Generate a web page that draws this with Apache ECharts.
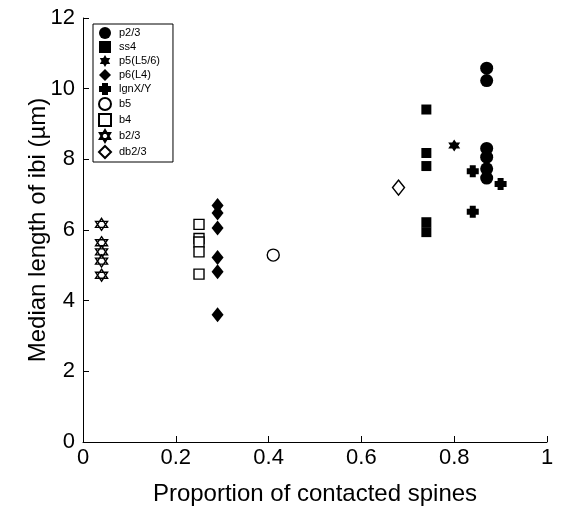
<!DOCTYPE html>
<html><head><meta charset="utf-8">
<script src="https://cdn.jsdelivr.net/npm/echarts@6/dist/echarts.min.js"></script>
<style>html,body{margin:0;padding:0;background:#fff;}#c{width:564px;height:512px;}</style>
</head><body><div id="c"></div>
<script>
// Series names (legend order)
const seriesNames = ['p2/3','ss4','p5(L5/6)','p6(L4)','lgnX/Y','b5','b4','b2/3','db2/3'];
// Data per group: x = proportion of contacted spines, y = median length of ibi (µm)
const p23X = [0.87,0.87,0.87,0.87,0.87,0.87];
const p23Y = [10.58,10.23,8.31,8.06,7.73,7.47];
const ss4X = [0.74,0.74,0.74,0.74,0.74];
const ss4Y = [9.41,8.18,7.81,6.22,5.94];
const p5X = [0.80];
const p5Y = [8.39];
const p6X = [0.29,0.29,0.29,0.29,0.29,0.29];
const p6Y = [6.69,6.48,6.06,5.22,4.82,3.6];
const lgnX = [0.84,0.90,0.84];
const lgnY = [7.66,7.3,6.52];
const b5X = [0.41];
const b5Y = [5.29];
const b4X = [0.25,0.25,0.25,0.25,0.25];
const b4Y = [6.16,5.76,5.66,5.38,4.75];
const b23X = [0.04,0.04,0.04,0.04,0.04];
const b23Y = [6.16,5.64,5.38,5.12,4.72];
const db23X = [0.68];
const db23Y = [7.2];
// Axis ticks
const xTicks = [0,0.2,0.4,0.6,0.8,1];
const yTicks = [0,2,4,6,8,10,12];

const zip = (xs, ys) => xs.map((x, i) => [x, ys[i]]);
const hexPath = 'path://M0,-10 L8.66,5 L-8.66,5 Z M0,10 L-8.66,-5 L8.66,-5 Z';
const plusPath = 'path://M-3,-6 L3,-6 L3,-3 L6,-3 L6,3 L3,3 L3,6 L-3,6 L-3,3 L-6,3 L-6,-3 L-3,-3 Z';

const filled = {color:'#000', opacity:1};
const open = {color:'#fff', borderColor:'#000', borderWidth:1.4, opacity:1};
const specs = [
  {data: zip(p23X,p23Y), symbol:'circle', size:13, style:filled},
  {data: zip(ss4X,ss4Y), symbol:'rect', size:10, style:filled},
  {data: zip(p5X,p5Y), symbol:hexPath, size:12, style:filled},
  {data: zip(p6X,p6Y), symbol:'diamond', size:[12,15], style:filled},
  {data: zip(lgnX,lgnY), symbol:plusPath, size:12, style:filled},
  {data: zip(b5X,b5Y), symbol:'circle', size:12, style:open},
  {data: zip(b4X,b4Y), symbol:'rect', size:10, style:open},
  {data: zip(b23X,b23Y), symbol:hexPath, size:12, style:open},
  {data: zip(db23X,db23Y), symbol:'diamond', size:[12,15], style:open}
];
const font = 'Liberation Sans, Arial, Helvetica, sans-serif';
const chart = echarts.init(document.getElementById('c'));
chart.setOption({
  animation:false,
  backgroundColor:'#fff',
  textStyle:{fontFamily:font, color:'#000'},
  grid:{left:83, right:17, top:18, bottom:70},
  legend:{
    orient:'vertical', left:93, top:24, padding:[3,13,3,5],
    itemWidth:12, itemHeight:12, itemGap:2,
    borderColor:'#000', borderWidth:1, backgroundColor:'#fff',
    textStyle:{fontFamily:font, fontSize:11, color:'#000', lineHeight:12, padding:[0,0,0,3]},
    data: seriesNames
  },
  xAxis:{
    type:'value', min:xTicks[0], max:xTicks[xTicks.length-1], interval:0.2,
    name:'Proportion of contacted spines', nameLocation:'middle', nameGap:40,
    nameMoveOverlap:false,
    nameTextStyle:{fontSize:24, color:'#000', fontFamily:font},
    axisLine:{lineStyle:{color:'#000', width:1}},
    axisTick:{inside:true, length:6, lineStyle:{color:'#000'}},
    axisLabel:{fontSize:22, color:'#000', margin:5, fontFamily:font},
    splitLine:{show:false}
  },
  yAxis:{
    type:'value', min:yTicks[0], max:yTicks[yTicks.length-1], interval:2,
    name:'Median length of ibi (µm)', nameLocation:'middle', nameGap:33, nameRotate:90,
    nameMoveOverlap:false,
    nameTextStyle:{fontSize:24, color:'#000', fontFamily:font},
    axisLine:{show:true, lineStyle:{color:'#000', width:1}},
    axisTick:{show:true, inside:true, length:6, lineStyle:{color:'#000'}},
    axisLabel:{fontSize:22, color:'#000', margin:8, fontFamily:font},
    splitLine:{show:false}
  },
  series: specs.map((s, i) => ({
    name: seriesNames[i], type:'scatter', data:s.data,
    symbol:s.symbol, symbolSize:s.size, itemStyle:s.style,
    emphasis:{disabled:true}
  }))
});
</script></body></html>
